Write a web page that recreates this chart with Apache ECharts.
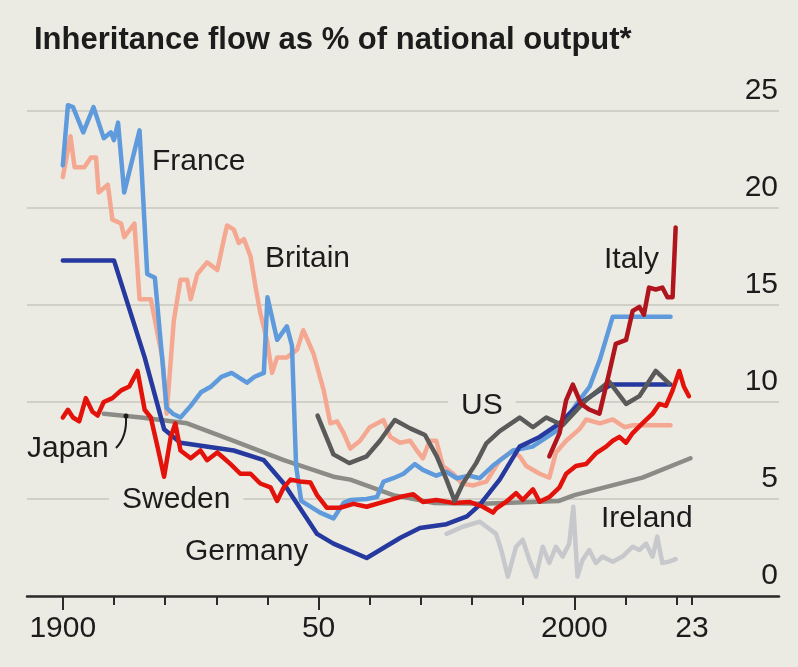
<!DOCTYPE html>
<html>
<head>
<meta charset="utf-8">
<title>Inheritance flow as % of national output</title>
<script src="https://cdn.jsdelivr.net/npm/echarts@6/dist/echarts.min.js"></script>
<style>
  html, body { margin: 0; padding: 0; background: #ecebe3; }
  #chart { width: 798px; height: 667px; }
</style>
</head>
<body>
<div id="chart"></div>
<script>
// values: [year, % of national output]
const france = [
    [1900, 22.2], [1901, 25.3], [1902, 25.2], [1904, 23.9], [1906, 25.2], [1908, 23.6],
    [1909.4, 23.9], [1910, 23.5], [1910.8, 24.4], [1912, 20.8], [1915, 24.0], [1916.5, 16.6],
    [1918, 16.4], [1920.3, 9.7], [1921.5, 9.4], [1923, 9.2], [1925, 9.8], [1927, 10.5],
    [1929, 10.8], [1931, 11.3], [1933, 11.5], [1936, 11.0], [1937.5, 11.3], [1939.3, 11.5],
    [1940, 15.4], [1941.9, 13.2], [1943.8, 13.9], [1944.8, 12.9], [1945.6, 6.7], [1946.6, 4.9],
    [1950.3, 4.3], [1952.9, 4.0], [1954.9, 4.8], [1956.2, 4.95], [1959.4, 5.0], [1961.4, 5.1],
    [1962.7, 5.9], [1964.6, 6.07], [1966.6, 6.3], [1968.8, 6.8], [1970.4, 6.5], [1973, 6.2],
    [1975, 6.4], [1977, 6.07], [1979.5, 6.2], [1981.5, 6.07], [1984, 6.7], [1988, 7.5],
    [1991.8, 7.7], [1997, 8.6], [2001, 10.1], [2003, 10.8], [2005, 12.2], [2007.5, 14.4],
    [2018.8, 14.4]
];
const britain = [
    [1900, 21.6], [1901.5, 23.7], [1902.3, 22.1], [1904.2, 22.1], [1905.5, 22.6], [1906.5, 22.6],
    [1907, 20.8], [1908.8, 21.2], [1909.7, 19.4], [1911.4, 19.2], [1912, 18.5], [1914, 19.2],
    [1915, 15.3], [1917.2, 15.3], [1919.5, 12.2], [1920.3, 9.4], [1921.7, 14.2], [1923, 16.3],
    [1924.3, 16.3], [1925, 15.3], [1926.3, 16.6], [1928.2, 17.2], [1930.2, 16.8], [1931.5, 18.4],
    [1932.1, 19.1], [1933.4, 18.9], [1934.4, 18.2], [1935.4, 18.4], [1936.7, 17.5], [1937.7, 15.9],
    [1938.6, 14.6], [1939.9, 13.2], [1940.9, 11.5], [1941.9, 12.3], [1943.8, 12.3], [1945.8, 12.7],
    [1947, 13.7], [1949, 12.5], [1951, 10.6], [1952.3, 8.9], [1953.6, 9.0], [1954.9, 8.4],
    [1956.2, 7.6], [1958.1, 8.0], [1960, 8.7], [1962.7, 9.07], [1964, 8.2], [1965.9, 7.9],
    [1967.9, 8.0], [1969.2, 7.5], [1970.4, 7.1], [1971.7, 8.0], [1973, 8.0], [1974.3, 6.7],
    [1976.3, 6.3], [1978, 5.8], [1980.2, 5.7], [1982.8, 5.9], [1985.4, 7.0], [1988, 7.5],
    [1989.3, 7.2], [1990.6, 6.7], [1993.2, 6.3], [1995.1, 6.1], [1996.4, 7.4], [1998.4, 8.0],
    [2001, 8.6], [2002.3, 9.1], [2005, 8.9], [2007.5, 9.1], [2009.8, 8.7], [2011.4, 8.8],
    [2018.8, 8.8]
];
const germany = [
    [1900, 17.3], [1910, 17.3], [1916, 12.3], [1919.8, 8.6], [1923, 7.9], [1933.4, 7.5],
    [1939.3, 7.0], [1943.2, 5.8], [1949.7, 3.2], [1952.9, 2.7], [1959.4, 1.96], [1966, 3.0],
    [1969.8, 3.5], [1975, 3.7], [1979, 4.1], [1981.5, 4.7], [1985.4, 6.0], [1989.3, 7.7],
    [1993.2, 8.2], [1997.1, 8.9], [2001, 9.9], [2004.9, 10.6], [2007.5, 10.9], [2018.8, 10.9]
];
const japan = [
    [1908, 9.4], [1915.3, 9.2], [1924.3, 8.9], [1933.4, 8.0], [1943.2, 7.0], [1952.9, 6.15],
    [1956.2, 6.0], [1964.6, 5.2], [1972.4, 4.8], [1982, 4.75], [1997, 4.9], [2000, 5.2],
    [2013.3, 6.1], [2022.7, 7.1]
];
const sweden = [
    [1900, 9.2], [1901, 9.6], [1902, 9.2], [1903.2, 9.0], [1904.5, 10.2], [1905.8, 9.5],
    [1906.8, 9.3], [1908, 10.0], [1909.7, 10.2], [1911.4, 10.6], [1913, 10.8], [1913.6, 11.1],
    [1914.6, 11.6], [1916, 9.6], [1917.2, 9.2], [1918.5, 7.7], [1919.8, 6.15], [1921.1, 8.2],
    [1922, 8.9], [1923, 7.5], [1925, 7.1], [1926.9, 7.5], [1928.2, 7.0], [1930.2, 7.4],
    [1931.5, 7.1], [1932.8, 6.8], [1934.7, 6.3], [1936.7, 6.3], [1938.6, 5.8], [1940.6, 5.6],
    [1941.9, 4.9], [1943.2, 5.6], [1944.5, 6.0], [1946.4, 5.9], [1948.4, 5.85], [1949.7, 5.2],
    [1951.6, 4.55], [1954.2, 4.55], [1956.8, 4.75], [1959.4, 4.6], [1962.7, 4.85], [1965.9, 5.1],
    [1968.5, 5.25], [1970.4, 4.85], [1973, 4.95], [1976.3, 4.8], [1979.5, 4.85], [1982.1, 4.6],
    [1984.1, 4.3], [1984.7, 4.5], [1986.7, 4.86], [1988.6, 5.3], [1989.9, 4.95], [1991.9, 5.5],
    [1993.2, 4.86], [1995.1, 5.1], [1997.1, 5.6], [1998.4, 6.3], [2000.3, 6.7], [2002.3, 6.8],
    [2004.2, 7.35], [2006.2, 7.7], [2007.5, 8.0], [2008.8, 8.2], [2010.1, 7.9], [2011.4, 8.4],
    [2013.3, 8.9], [2015.3, 9.4], [2016.6, 9.9], [2017.9, 9.8], [2019.2, 10.6], [2020.5, 11.6],
    [2021.4, 10.8], [2022.4, 10.3]
];
const us = [
    [1949.8, 9.3], [1952.9, 7.3], [1956, 6.85], [1959.4, 7.2], [1962, 8.0], [1964.9, 9.07],
    [1967.9, 8.64], [1970.8, 8.3], [1973.1, 7.2], [1975, 6.0], [1976.6, 4.9], [1978.2, 5.8],
    [1980.8, 6.85], [1982.8, 7.87], [1985.4, 8.5], [1989.3, 9.2], [1991.9, 8.7], [1994.5, 9.2],
    [1997.7, 8.8], [2002.3, 10.1], [2006.8, 11.05], [2010.1, 9.9], [2012.7, 10.3], [2015.9, 11.6],
    [2018.5, 10.96]
];
const italy = [
    [1995.1, 7.2], [1997.1, 8.4], [1998.4, 10.1], [1999.7, 10.9], [2001.3, 9.9], [2003, 9.6],
    [2004.9, 9.4], [2006.8, 11.5], [2008.1, 13.0], [2010.1, 13.2], [2011.4, 14.7], [2012.7, 14.9],
    [2013.6, 14.5], [2014.6, 15.9], [2015.9, 15.8], [2017.2, 15.9], [2018.2, 15.4], [2019.2, 15.4],
    [2019.8, 19.0]
];
const ireland = [
    [1975, 3.2], [1978.2, 3.57], [1981.5, 3.83], [1984.7, 3.2], [1985.7, 2.37], [1987, 1.0],
    [1988.6, 2.54], [1989.9, 2.9], [1991.2, 1.86], [1992.5, 1.0], [1993.8, 2.54], [1995.1, 1.7],
    [1996.4, 2.54], [1997.7, 2.03], [1999, 2.7], [1999.8, 4.6], [2000.6, 1.0], [2001.6, 1.86],
    [2002.9, 2.37], [2004.2, 1.7], [2005.5, 2.03], [2007.5, 1.77], [2009.4, 2.03], [2011.4, 2.54],
    [2012.7, 2.37], [2014, 2.7], [2015.3, 2.03], [2016.2, 3.06], [2017.2, 1.7], [2018.5, 1.77],
    [2019.8, 1.9]
];

// axis ticks and labels
const minorTicks = [1900, 1910, 1920, 1930, 1940, 1950, 1960, 1970, 1980, 1990, 2000, 2010, 2020, 2023];
const majorTicks = [1900, 1950, 2000];
const xLabelValues = [1900, 1950, 2000, 2023];
const xLabelTexts = ['1900', '50', '2000', '23'];

const BG = '#ecebe3';
const INK = '#1c1c1c';
const FONT = '"Liberation Sans", Arial, sans-serif';

const chart = echarts.init(document.getElementById('chart'));

function line(name, data, color, width) {
    return {
        name: name,
        type: 'line',
        data: data,
        symbol: 'none',
        clip: false,
        animation: false,
        lineStyle: { color: color, width: width, join: 'round', cap: 'round' }
    };
}

// country names; bg ones sit on a gridline and blank it out (under the lines)
function label(text, x, y, bg) {
    const el = {
        type: 'text',
        x: x,
        y: y,
        z: 1,
        style: {
            text: text,
            fill: INK,
            fontSize: 30,
            fontFamily: FONT,
            verticalAlign: 'middle'
        }
    };
    if (bg) {
        el.style.backgroundColor = BG;
        el.style.padding = [0, 13];
        el.x = x - 13;
    }
    return el;
}

const option = {
    backgroundColor: BG,
    animation: false,
    title: {
        text: 'Inheritance flow as % of national output*',
        left: 29,
        top: 20,
        textStyle: { fontSize: 31, fontWeight: 'bold', color: INK, fontFamily: FONT }
    },
    grid: { left: 27, right: 19, top: 111, bottom: 71, outerBoundsMode: 'none' },
    xAxis: [{
        type: 'value',
        min: 1893,
        max: 2040,
        axisLine: { show: true, onZero: false, lineStyle: { color: '#2b2b2b', width: 2.5 } },
        axisTick: { show: true, customValues: minorTicks, length: 9, lineStyle: { color: '#2b2b2b', width: 2 } },
        axisLabel: {
            customValues: xLabelValues,
            formatter: v => xLabelTexts[xLabelValues.indexOf(v)],
            margin: 18,
            fontSize: 30,
            color: INK,
            fontFamily: FONT
        },
        splitLine: { show: false }
    }, {
        type: 'value',
        min: 1893,
        max: 2040,
        position: 'bottom',
        axisLine: { show: false, onZero: false },
        axisTick: { show: true, customValues: majorTicks, length: 14, lineStyle: { color: '#2b2b2b', width: 2 } },
        axisLabel: { show: false },
        splitLine: { show: false }
    }],
    yAxis: {
        type: 'value',
        min: 0,
        max: 25,
        interval: 5,
        position: 'right',
        axisLine: { show: false },
        axisTick: { show: false },
        axisLabel: {
            inside: true,
            margin: 1,
            verticalAlign: 'bottom',
            padding: [0, 0, 5, 0],
            fontSize: 30,
            color: INK,
            fontFamily: FONT
        },
        splitLine: { lineStyle: { color: '#c9c7bf', width: 1.5 } }
    },
    series: [
        line('Ireland', ireland, '#c6c8cc', 4.5),
        line('Japan', japan, '#8c8c87', 4.5),
        line('Britain', britain, '#f5a891', 4.5),
        line('France', france, '#5f9bdc', 4.5),
        line('Germany', germany, '#25399f', 4.5),
        line('Sweden', sweden, '#e3120b', 4.5),
        line('US', us, '#5a5a5a', 4.5),
        line('Italy', italy, '#b0141c', 4.5)
    ],
    graphic: [
        label('France', 152, 162),
        label('Britain', 265, 259),
        label('Italy', 604, 260),
        label('US', 461, 406, true),
        label('Japan', 27, 449),
        label('Sweden', 122, 500, true),
        label('Germany', 185, 552),
        label('Ireland', 601, 519),
        {
            type: 'bezierCurve',
            z: 10,
            shape: { x1: 126, y1: 417, x2: 116, y2: 448, cpx1: 127, cpy1: 437 },
            style: { stroke: INK, lineWidth: 2, fill: null }
        },
        {
            type: 'circle',
            z: 10,
            shape: { cx: 126, cy: 416, r: 2.5 },
            style: { fill: INK }
        }
    ]
};

chart.setOption(option);

window.addEventListener('resize', () => {
    chart.resize();
});
</script>
</body>
</html>
